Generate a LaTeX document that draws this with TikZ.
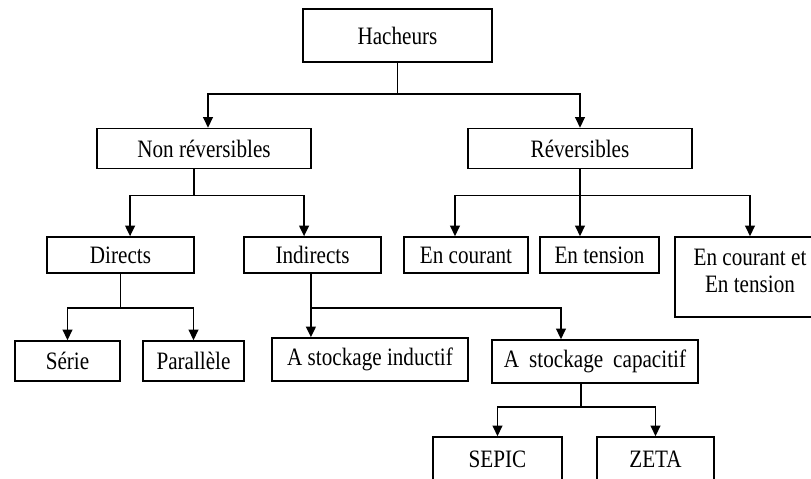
\documentclass[tikz,border=0pt]{standalone}
\usepackage{fontspec}
\setmainfont{Liberation Serif}[FakeStretch=0.845]
\usetikzlibrary{arrows.meta}

\tikzset{
  boite/.style={draw, line width=1.2pt, inner sep=0pt, align=center, font=\fontsize{17.8}{19}\selectfont},
  fleche/.style={-{Triangle[length=7.5pt,width=7pt]}, line width=1.2pt},
}

\begin{document}
\begin{tikzpicture}[x=0.025cm, y=-0.025cm]
\clip (0,0) rectangle (811,479);

\node[boite, minimum width=4.725cm, minimum height=1.325cm] (hach) at (397.5,35.5) {Hacheurs};

\node[boite, minimum width=5.35cm, minimum height=1cm] (nonrev) at (204,148.5) {Non réversibles};
\node[boite, minimum width=5.6cm, minimum height=1cm] (rev) at (580,148.5) {Réversibles};

\node[boite, minimum width=3.675cm, minimum height=0.9cm] (directs) at (120.5,255) {Directs};
\node[boite, minimum width=3.425cm, minimum height=0.9cm] (indirects) at (312.5,255) {Indirects};
\node[boite, minimum width=3.1cm, minimum height=0.9cm] (encour) at (466,255) {En courant};
\node[boite, minimum width=2.975cm, minimum height=0.9cm] (entens) at (599.5,255) {En tension};
\node[boite, minimum width=3.75cm, minimum height=2cm, text depth=0.3cm] (encouret) at (750,277) {En courant et\\En tension};

\node[boite, minimum width=2.625cm, minimum height=1cm] (serie) at (67.5,361) {Série};
\node[boite, minimum width=2.525cm, minimum height=1cm] (parallele) at (193.5,361) {Parallèle};
\node[boite, minimum width=4.9cm, minimum height=1.075cm] (inductif) at (370,359.5) {A stockage inductif};
\node[boite, minimum width=5.15cm, minimum height=1.075cm] (capacitif) at (595,361.5) {A\hspace{0.4em}stockage\hspace{0.4em}capacitif};

\node[boite, minimum width=3.225cm, minimum height=1.1cm] (sepic) at (497.5,459) {SEPIC};
\node[boite, minimum width=2.925cm, minimum height=1.1cm] (zeta) at (655.5,459) {ZETA};

% premier niveau
\draw[fleche] (hach.south) -- ++(0,31) -| ([xshift=0.1cm]nonrev.north);
\draw[fleche] (hach.south) -- ++(0,31) -| (rev.north);

% non reversibles
\draw[fleche] ([xshift=-0.25cm]nonrev.south) -- ++(0,26) -| ([xshift=0.24cm]directs.north);
\draw[fleche] ([xshift=-0.25cm]nonrev.south) -- ++(0,26) -| ([xshift=-0.21cm]indirects.north);

% reversibles
\draw[fleche] (rev.south) -- (rev.south |- entens.north);
\draw[fleche] (rev.south) -- ++(0,26) -| ([xshift=-0.275cm]encour.north);
\draw[fleche] (rev.south) -- ++(0,26) -| (encouret.north);

% directs / indirects
\draw[fleche] (directs.south) -- ++(0,34) -| (serie.north);
\draw[fleche] (directs.south) -- ++(0,34) -| (parallele.north);
\draw[fleche] ([xshift=-0.04cm]indirects.south) -- ([xshift=-0.04cm]indirects.south |- inductif.north);
\draw[fleche] ([xshift=-0.04cm]indirects.south) -- ++(0,34) -| ([xshift=-0.85cm]capacitif.north);

% capacitif
\draw[fleche] ([xshift=-0.35cm]capacitif.south) -- ++(0,23) -| (sepic.north);
\draw[fleche] ([xshift=-0.35cm]capacitif.south) -- ++(0,23) -| (zeta.north);
\end{tikzpicture}
\end{document}
